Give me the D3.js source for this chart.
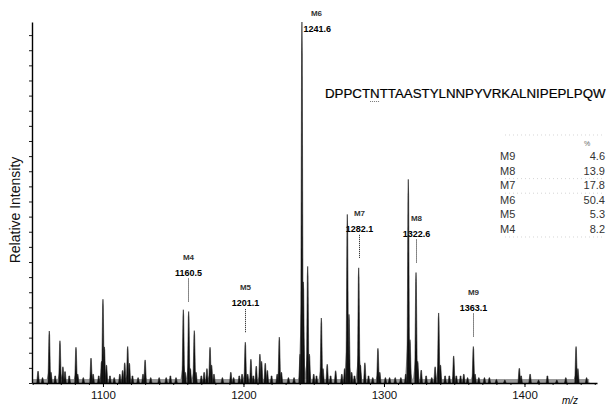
<!DOCTYPE html>
<html>
<head>
<meta charset="utf-8">
<script src="https://cdn.jsdelivr.net/npm/d3@7"></script>
<style>
  body { margin: 0; background: #fff; }
  svg { display: block; font-family: "Liberation Sans", Arial, sans-serif; }
</style>
</head>
<body>
<script>
// peak list: m/z and relative intensity (%)
var peakMz = [1053.8, 1057, 1061.8, 1063, 1066, 1069.4, 1071.5, 1073, 1076, 1080.8, 1082, 1086,
  1091.5, 1093, 1097, 1099, 1100.0, 1101, 1102.5, 1105, 1108, 1112, 1114, 1115.5, 1117.6, 1118.8,
  1121, 1125, 1128.5, 1130, 1134, 1140, 1145, 1148, 1152, 1157.2, 1158.4, 1161.0, 1162.2, 1165.0,
  1166.2, 1170, 1172, 1174, 1176.2, 1177.3, 1179, 1185, 1191, 1193, 1197, 1199, 1201.3, 1203,
  1205.3, 1207, 1209.1, 1211.7, 1212.9, 1215.5, 1217, 1220, 1224, 1225.5, 1227, 1232, 1236,
  1240.3, 1241.6, 1242.6, 1245.7, 1246.9, 1250, 1252, 1255.4, 1256.6, 1259.6, 1262, 1265.6, 1270,
  1272, 1273.9, 1275.1, 1277, 1279, 1282.0, 1283.2, 1286.4, 1289, 1292, 1295.7, 1297, 1301, 1304,
  1308, 1312, 1315.5, 1317.3, 1318.5, 1322.8, 1324, 1326.5, 1330, 1334, 1336.4, 1338.9, 1340.2,
  1343.5, 1346.5, 1349.6, 1351.5, 1354.5, 1356.8, 1359.5, 1363.6, 1364.8, 1367.5, 1371.5, 1375,
  1380, 1386, 1396.3, 1397.6, 1404, 1410, 1416.3, 1423, 1429.4, 1436.7, 1438, 1444.2];
var peakInt = [3.3, 1.5, 14.4, 3, 2, 11.7, 4.5, 3.2, 2, 9.9, 2.5, 1.5,
  6.9, 2.5, 2, 6, 23.2, 10, 5, 2, 1.5, 2.5, 3.5, 5.6, 10.1, 5.5,
  2, 1.5, 2.5, 6.4, 1.5, 1.5, 1.5, 2, 1.5, 20.3, 3, 19.8, 4, 14.5,
  3, 2, 3, 4, 9.9, 5, 2.5, 1.5, 3, 1.5, 2, 2.5, 11.3, 2.5,
  6.6, 2, 4.7, 8.0, 6, 5.5, 3.5, 2, 2.5, 12.7, 3, 1.5, 1.5,
  8, 100, 28, 32.3, 8, 2.5, 2, 18, 4, 5.2, 2, 3.4, 2.5,
  4, 46.7, 19, 3, 2, 31.9, 5, 5.6, 2, 1.5, 9.6, 3, 1.5, 1.5,
  1.5, 1.5, 2.5, 56.4, 12, 30.6, 6, 3.6, 2, 1.5, 4.5, 19.4, 5,
  2, 2, 7.5, 2, 2, 2.5, 1.5, 10.1, 2.5, 1.5, 1.5, 1.5,
  1, 0.8, 4.1, 2, 2.5, 0.8, 2, 0.8, 1.5, 10.1, 4, 1.5];

// annotated glycoforms
var annoNames = ["M4", "M5", "M6", "M7", "M8", "M9"];
var annoMz = [1160.5, 1201.1, 1241.6, 1282.1, 1322.6, 1363.1];

// inset table
var tableNames = ["M9", "M8", "M7", "M6", "M5", "M4"];
var tablePct = [4.6, 13.9, 17.8, 50.4, 5.3, 8.2];

var xTicks = [1100, 1200, 1300, 1400];
var sequence = "DPPCTNTTAASTYLNNPYVRKALNIPEPLPQW";
var glycoSite = 5; // the N of N-x-T, dotted underline

var width = 614, height = 406;

var svg = d3.select("body").append("svg")
  .attr("width", width)
  .attr("height", height);

var x = d3.scaleLinear().domain([1049.5, 1451.6]).range([32, 597]);
var y = d3.scaleLinear().domain([0, 100]).range([383, 22]);

var peaks = peakMz.map(function (m, i) { return {mz: m, v: peakInt[i]}; });

var area = d3.area()
  .x(function (d) { return x(d[0]); })
  .y0(y(0))
  .y1(function (d) { return y(d[1]); });

// grey isotope shoulders under each peak
svg.append("g").selectAll("path")
  .data(peaks)
  .enter().append("path")
  .attr("d", function (d) {
    return area([[d.mz - 2.4, 0], [d.mz - 0.8, d.v * 0.2], [d.mz, d.v * 0.3], [d.mz + 0.9, d.v * 0.2], [d.mz + 2.6, 0]]);
  })
  .attr("fill", "#858585");

// baseline noise band
svg.append("rect")
  .attr("x", x(1050)).attr("y", y(1.1))
  .attr("width", x(1446) - x(1050)).attr("height", y(0) - y(1.1))
  .attr("fill", "#999");

// the spikes
svg.append("g").selectAll("path")
  .data(peaks)
  .enter().append("path")
  .attr("d", function (d) {
    return area([[d.mz - 0.9, 0], [d.mz - 0.25, d.v * 0.92], [d.mz, d.v], [d.mz + 0.25, d.v * 0.92], [d.mz + 0.9, 0]]);
  })
  .attr("fill", "#0a0a0a")
  .attr("stroke", "#222")
  .attr("stroke-width", 0.6);

// y axis: line with little ticks, no labels
var yAxis = svg.append("g")
  .attr("transform", "translate(32,0)")
  .call(d3.axisLeft(y).tickValues(d3.range(0, 99, 4.19)).tickSize(3).tickSizeOuter(0).tickFormat(""));
yAxis.select(".domain").attr("stroke-width", 1.4);
yAxis.selectAll(".tick line").attr("stroke-width", 0.9);

// x axis
var xMinor = svg.append("g")
  .attr("transform", "translate(0,383)")
  .call(d3.axisBottom(x).tickValues(d3.range(1050, 1451, 10)).tickSize(2).tickSizeOuter(0).tickFormat(""));
xMinor.select(".domain").attr("stroke-width", 1.4);
xMinor.selectAll(".tick line").attr("stroke-width", 0.9);

var xAxis = svg.append("g")
  .attr("transform", "translate(0,383)")
  .call(d3.axisBottom(x).tickValues(xTicks).tickSize(4).tickSizeOuter(0).tickPadding(4).tickFormat(d3.format("d")));
xAxis.select(".domain").remove();
xAxis.selectAll("text")
  .attr("font-family", "Liberation Sans, Arial, sans-serif")
  .attr("font-size", "11.5px")
  .attr("fill", "#111");

svg.append("text")
  .attr("x", 570).attr("y", 404)
  .attr("text-anchor", "middle")
  .attr("font-size", "10px")
  .attr("font-style", "italic")
  .text("m/z");

svg.append("text")
  .attr("transform", "translate(20,210) rotate(-90)")
  .attr("text-anchor", "middle")
  .attr("font-size", "14px")
  .attr("fill", "#111")
  .text("Relative Intensity");

// peak annotations
annoNames.forEach(function (name, i) {
  var mz = annoMz[i];
  var near = peaks.filter(function (p) { return Math.abs(p.mz - mz) < 1.5; });
  var top = d3.max(near, function (p) { return p.v; });
  var px = Math.round(x(mz)) + 0.5;
  var g = svg.append("g");
  if (top >= 99) {
    // base peak: label to the right of the top
    g.append("text").attr("x", px + 14).attr("y", 16)
      .attr("text-anchor", "middle").attr("font-size", "8px").attr("font-weight", "bold")
      .attr("fill", "#333").text(name);
    g.append("text").attr("x", px + 1).attr("y", 32)
      .attr("font-size", "9px").attr("font-weight", "bold").text(mz.toFixed(1));
    return;
  }
  var lineBottom = y(top) - 9;
  var lineTop = lineBottom - 24;
  g.append("line")
    .attr("x1", px).attr("x2", px)
    .attr("y1", lineTop).attr("y2", lineBottom)
    .attr("stroke", "#111").attr("stroke-width", 1)
    .attr("stroke-dasharray", "1,1");
  g.append("text").attr("x", px).attr("y", lineTop - 3)
    .attr("text-anchor", "middle").attr("font-size", "9px").attr("font-weight", "bold")
    .text(mz.toFixed(1));
  g.append("text").attr("x", px).attr("y", lineTop - 19)
    .attr("text-anchor", "middle").attr("font-size", "8px").attr("font-weight", "bold")
    .attr("fill", "#333").text(name);
});

// peptide sequence
var seq = svg.append("text")
  .attr("x", 325).attr("y", 98)
  .attr("font-size", "13.3px")
  .attr("fill", "#000")
  .attr("stroke", "#000").attr("stroke-width", 0.2)
  .text(sequence);
var nodeSeq = seq.node();
var s0 = nodeSeq.getStartPositionOfChar(glycoSite).x;
var s1 = nodeSeq.getEndPositionOfChar(glycoSite).x;
svg.append("line")
  .attr("x1", s0).attr("x2", s1)
  .attr("y1", 101.5).attr("y2", 101.5)
  .attr("stroke", "#555").attr("stroke-width", 0.8)
  .attr("stroke-dasharray", "1,1");

// inset table
var tLeft = 500, tRight = 605, tTop = 135, rowH = 14.6;
var tg = svg.append("g").attr("font-size", "11px").attr("fill", "#333");
tg.append("text").attr("x", 587).attr("y", 146)
  .attr("text-anchor", "middle").attr("font-size", "7px").attr("fill", "#666").text("%");
tableNames.forEach(function (name, i) {
  var by = 160 + i * rowH;
  tg.append("text").attr("x", tLeft).attr("y", by).text(name);
  tg.append("text").attr("x", tRight).attr("y", by).attr("text-anchor", "end").text(tablePct[i].toFixed(1));
});
[tTop, 160 + 1 * rowH + 4, 160 + 2 * rowH + 4, 160 + 5 * rowH + 4].forEach(function (ly) {
  svg.append("line")
    .attr("x1", 505).attr("x2", tRight)
    .attr("y1", ly).attr("y2", ly)
    .attr("stroke", "#c4c4c4").attr("stroke-width", 0.7)
    .attr("stroke-dasharray", "1,3");
});
</script>
</body>
</html>
